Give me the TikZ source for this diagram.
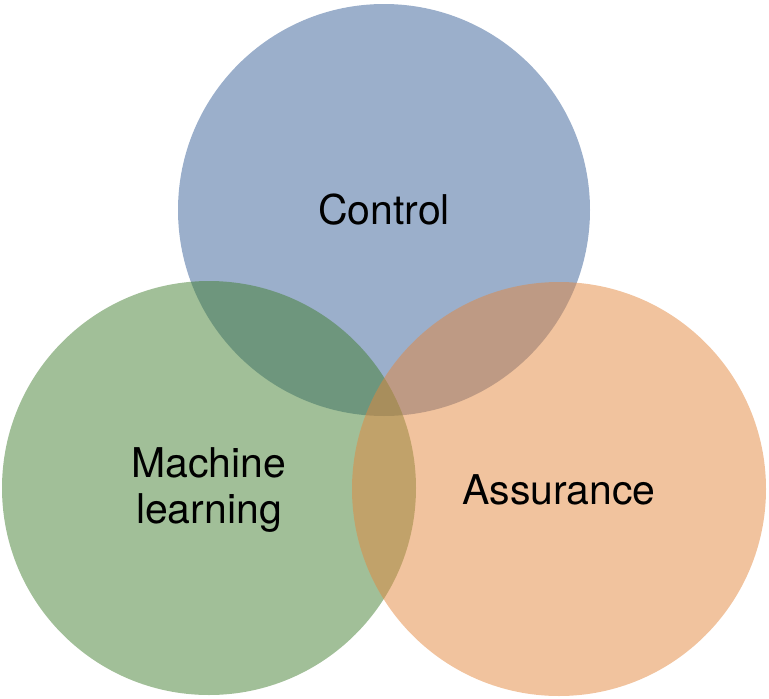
\documentclass[tikz,border=0pt]{standalone}
\usepackage{fontspec}
\setmainfont{TeX Gyre Heros}
\definecolor{ctrlblue}{RGB}{55,95,151}
\definecolor{mlgreen}{RGB}{67,127,49}
\definecolor{assorange}{RGB}{227,135,61}
\tikzset{
    venn/.style={fill opacity=0.5},
    vennlabel/.style={font=\fontsize{41}{46}\selectfont, align=center, text opacity=1}
}
\begin{document}
    \begin{tikzpicture}[x=1pt,y=-1pt]
        \useasboundingbox (0,0) rectangle (769,699);
        \fill[venn, ctrlblue] (384,210) circle (206);
        \fill[venn, mlgreen] (209,488) circle (207);
        \fill[venn, assorange] (559,489) circle (207);
        \node[vennlabel] (control) at (384,210) {Control};
        \node[vennlabel] (ml) at (209,490) {Machine\\learning};
        \node[vennlabel] (assurance) at (559,490) {Assurance};
    \end{tikzpicture}
\end{document}
